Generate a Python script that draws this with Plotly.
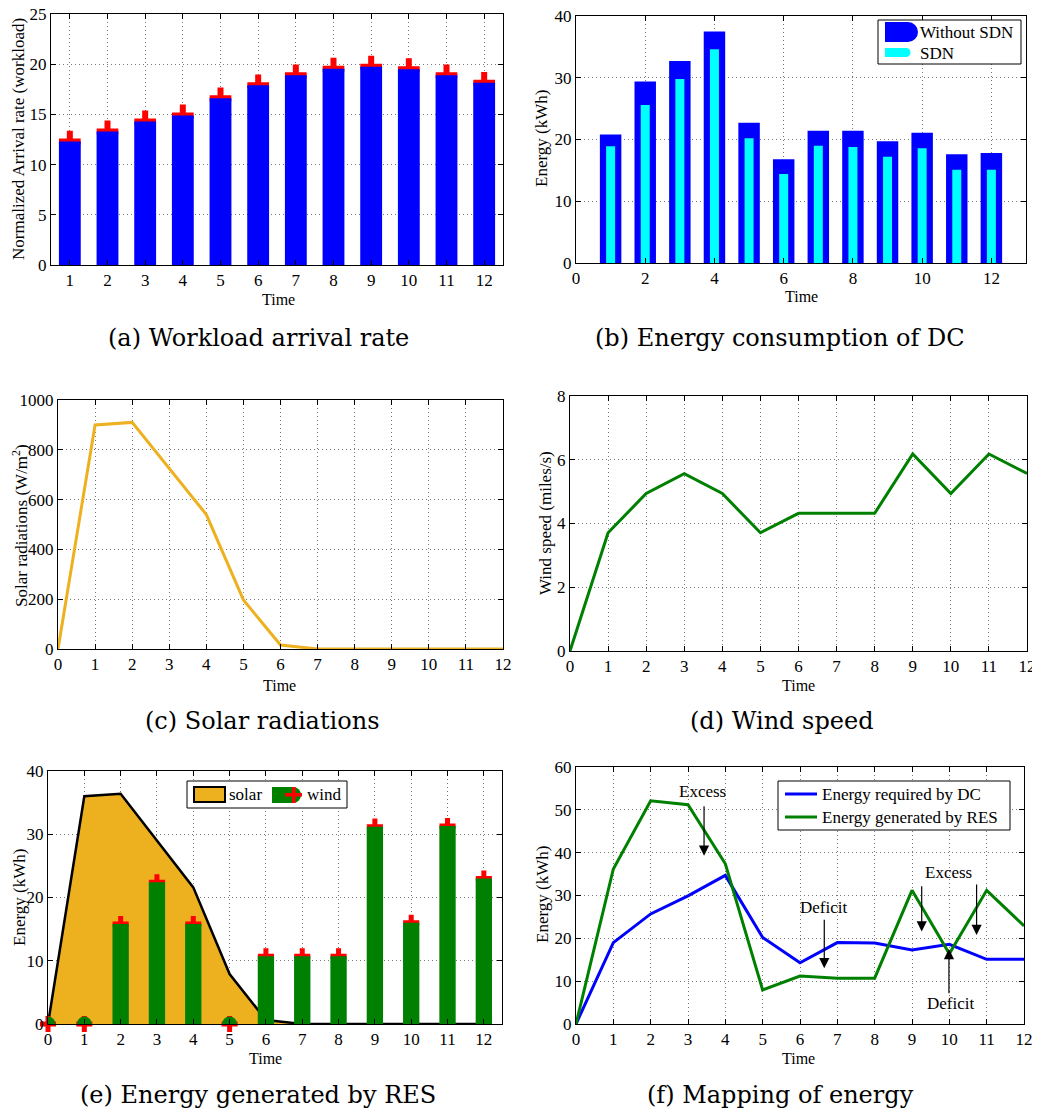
import plotly.graph_objects as go

# ---------------- data ----------------
time_bars = [1, 2, 3, 4, 5, 6, 7, 8, 9, 10, 11, 12]
time_line = [0, 1, 2, 3, 4, 5, 6, 7, 8, 9, 10, 11, 12]

workload = [12.3, 13.3, 14.3, 14.9, 16.6, 17.9, 18.9, 19.55, 19.75, 19.5, 18.9, 18.15]

energy_without_sdn = [20.8, 29.4, 32.7, 37.5, 22.7, 16.8, 21.4, 21.4, 19.7, 21.1, 17.6, 17.8]
energy_sdn = [18.9, 25.6, 29.8, 34.6, 20.2, 14.4, 19.0, 18.8, 17.2, 18.6, 15.1, 15.1]

solar_radiation = [0, 900, 910, 725, 540, 197, 16, 0, 0, 0, 0, 0, 0]
wind_speed = [0, 3.71, 4.94, 5.56, 4.94, 3.71, 4.32, 4.32, 4.32, 6.18, 4.94, 6.18, 5.57]

solar_energy = [0, 36.0, 36.4, 29.0, 21.6, 7.9, 0.64, 0, 0, 0, 0, 0, 0]
wind_energy = [0, 0, 15.8, 22.4, 15.8, 0, 10.7, 10.7, 10.7, 31.2, 16.0, 31.3, 23.0]

dc_required = [0, 19.0, 25.7, 29.9, 34.7, 20.2, 14.3, 19.0, 18.9, 17.3, 18.6, 15.1, 15.1]
res_generated = [0, 36.2, 52.1, 51.2, 37.4, 7.95, 11.2, 10.7, 10.7, 31.2, 16.4, 31.2, 22.9]

legend_b = ["Without SDN", "SDN"]
legend_e = ["solar", "wind"]
legend_f = ["Energy required by DC", "Energy generated by RES"]

# ---------------- styling ----------------
OFF = 8                     # page body margin in the browser
W, H = 1040 - OFF, 1115 - OFF
BLUE = "#0000FF"
CYAN = "#00FFFF"
GREEN = "#008000"
ORANGE = "#EDB120"
RED = "#FF0000"
SERIF = "Liberation Serif"
CAP_FONT = "DejaVu Serif"
GRID = "rgb(120,120,120)"


def dx(px):
    return (px - OFF) / W


def dy(px):
    return 1 - (px - OFF) / H


# panel boxes in screen pixels: (left, right, top, bottom)
boxes = {
    1: (51, 503, 14, 265),
    2: (576, 1026, 16, 263),
    3: (58, 503, 400, 649),
    4: (570, 1027, 396, 651),
    5: (48, 502, 771, 1024),
    6: (576, 1024, 767, 1024),
}
xranges = {1: [0.5, 12.5], 2: [0, 13], 3: [0, 12], 4: [0, 12], 5: [0, 12.5], 6: [0, 12]}
yranges = {1: [0, 25], 2: [0, 40], 3: [0, 1000], 4: [0, 8], 5: [0, 40], 6: [0, 60]}
xdticks = {1: 1, 2: 2, 3: 1, 4: 1, 5: 1, 6: 1}
xticks0 = {1: 1, 2: 0, 3: 0, 4: 0, 5: 0, 6: 0}
ydticks = {1: 5, 2: 10, 3: 200, 4: 2, 5: 10, 6: 10}

fig = go.Figure()

# (a) workload: red crosses under blue bars (bars on overlay axis)
fig.add_trace(go.Scatter(x=time_bars, y=workload, mode="markers", xaxis="x", yaxis="y",
                         marker=dict(symbol="cross-thin", size=15.5, line=dict(color=RED, width=6)),
                         showlegend=False, cliponaxis=False))
fig.add_trace(go.Bar(x=time_bars, y=workload, xaxis="x", yaxis="y7", width=0.58,
                     marker=dict(color=BLUE, line=dict(width=0)), showlegend=False))

# (b) energy consumption
fig.add_trace(go.Bar(x=time_bars, y=energy_without_sdn, xaxis="x2", yaxis="y2", width=0.62,
                     marker=dict(color=BLUE, line=dict(width=0)), name=legend_b[0], showlegend=False))
fig.add_trace(go.Bar(x=time_bars, y=energy_sdn, xaxis="x2", yaxis="y2", width=0.26,
                     marker=dict(color=CYAN, line=dict(width=0)), name=legend_b[1], showlegend=False))

# (c) solar radiations
fig.add_trace(go.Scatter(x=time_line, y=solar_radiation, mode="lines", xaxis="x3", yaxis="y3",
                         line=dict(color=ORANGE, width=3), showlegend=False))

# (d) wind speed
fig.add_trace(go.Scatter(x=time_line, y=wind_speed, mode="lines", xaxis="x4", yaxis="y4",
                         line=dict(color=GREEN, width=3), showlegend=False))

# (e) energy generated by RES
fig.add_trace(go.Scatter(x=time_line, y=solar_energy, mode="lines", xaxis="x5", yaxis="y5",
                         fill="tozeroy", fillcolor=ORANGE, line=dict(color="black", width=2.5),
                         name=legend_e[0], showlegend=False))
fig.add_trace(go.Scatter(x=time_line, y=wind_energy, mode="markers", xaxis="x5", yaxis="y5",
                         marker=dict(symbol="cross-thin", size=11.5, line=dict(color=RED, width=5)),
                         showlegend=False, cliponaxis=False))
fig.add_trace(go.Bar(x=time_line, y=wind_energy, xaxis="x5", yaxis="y8", width=0.45,
                     marker=dict(color=GREEN, line=dict(width=0)), name=legend_e[1], showlegend=False))
zero_x = [t for t, v in zip(time_line, wind_energy) if v == 0]
zero_y = [v for v in wind_energy if v == 0]
fig.add_trace(go.Scatter(x=zero_x, y=zero_y, mode="markers", xaxis="x5", yaxis="y8",
                         marker=dict(symbol="circle", size=15, color=GREEN, line=dict(width=0)),
                         showlegend=False, cliponaxis=True))

# (f) mapping of energy
fig.add_trace(go.Scatter(x=time_line, y=dc_required, mode="lines", xaxis="x6", yaxis="y6",
                         line=dict(color=BLUE, width=3), name=legend_f[0], showlegend=False))
fig.add_trace(go.Scatter(x=time_line, y=res_generated, mode="lines", xaxis="x6", yaxis="y6",
                         line=dict(color=GREEN, width=3), name=legend_f[1], showlegend=False))

layout = dict(
    width=W, height=H,
    autosize=False,
    margin=dict(l=0, r=0, t=0, b=0, pad=0, autoexpand=False),
    paper_bgcolor="white", plot_bgcolor="white",
    barmode="overlay",
    font=dict(family=SERIF, size=16, color="black"),
    showlegend=False,
)

for i, (l, r, t, b) in boxes.items():
    sfx = "" if i == 1 else str(i)
    common = dict(showline=True, linecolor="black", linewidth=1, mirror="ticks",
                  ticks="inside", ticklen=5, tickcolor="black", tickwidth=1,
                  showgrid=True, gridcolor=GRID, griddash="1px,3px", gridwidth=1,
                  zeroline=False, tickfont=dict(family=SERIF, size=17, color="black"),
                  ticklabeloverflow="allow", fixedrange=True, automargin=False)
    layout["xaxis" + sfx] = dict(domain=[dx(l), dx(r)], anchor="y" + sfx, range=xranges[i],
                                 tick0=xticks0[i], dtick=xdticks[i], **common)
    layout["yaxis" + sfx] = dict(domain=[dy(b), dy(t)], anchor="x" + sfx, range=yranges[i],
                                 tick0=0, dtick=ydticks[i], **common)

layout["yaxis7"] = dict(overlaying="y", anchor="x", range=yranges[1], visible=False, fixedrange=True)
layout["yaxis8"] = dict(overlaying="y5", anchor="x5", range=yranges[5], visible=False, fixedrange=True)

fig.update_layout(**layout)

# ---------------- hand-drawn legends (pixel placements) ----------------
shapes = []
annotations = []


def rect(x0, y0, x1, y1, fill, line_color=None, line_width=0):
    shapes.append(dict(type="rect", xref="paper", yref="paper", layer="above",
                       x0=dx(x0), x1=dx(x1), y0=dy(y1), y1=dy(y0), fillcolor=fill,
                       line=dict(color=line_color or fill, width=line_width)))


def disc(cx, cy, r, fill):
    shapes.append(dict(type="circle", xref="paper", yref="paper", layer="above",
                       x0=dx(cx - r), x1=dx(cx + r), y0=dy(cy + r), y1=dy(cy - r),
                       fillcolor=fill, line=dict(width=0)))


def hline(x0, x1, y, color, width):
    shapes.append(dict(type="line", xref="paper", yref="paper", layer="above",
                       x0=dx(x0), x1=dx(x1), y0=dy(y), y1=dy(y), line=dict(color=color, width=width)))


def label(text, x, y):
    annotations.append(dict(text=text, x=dx(x), y=dy(y), xref="paper", yref="paper",
                            showarrow=False, xanchor="left", yanchor="middle",
                            font=dict(family=SERIF, size=17, color="black")))


# legend (b)
rect(878, 20, 1021, 64, "white", "black", 1)
disc(908, 32, 10, BLUE)
rect(885, 22, 908, 42, BLUE)
disc(906, 52.5, 4.5, CYAN)
rect(885, 48, 906, 57, CYAN)
label(legend_b[0], 918, 32)
label(legend_b[1], 918, 53)

# legend (e)
rect(187, 781, 347, 808, "white", "black", 1)
rect(194, 787, 225, 802, ORANGE, "black", 2)
label(legend_e[0], 227, 794)
disc(293, 795, 8, GREEN)
rect(272, 787, 293, 803, GREEN)
rect(285, 793, 302, 796.5, RED)
rect(292, 787, 295.5, 803, RED)
label(legend_e[1], 305, 794)

# legend (f)
rect(778, 781, 1010, 830, "white", "black", 1)
hline(785, 817, 794, BLUE, 3)
hline(785, 817, 817, GREEN, 3)
label(legend_f[0], 820, 794)
label(legend_f[1], 820, 817)

# axis titles (pixel placements)
ytitles = [
    ("Normalized Arrival rate (workload)", 19, 139),
    ("Energy (kWh)", 542, 139),
    ("Solar radiations (W/m<sup>2</sup>)", 20, 526),
    ("Wind speed (miles/s)", 545, 523),
    ("Energy (kWh)", 19, 898),
    ("Energy (kWh)", 542, 895),
]
for text, px, py in ytitles:
    annotations.append(dict(text=text, x=dx(px), y=dy(py), xref="paper", yref="paper",
                            showarrow=False, textangle=-90, xanchor="center", yanchor="middle",
                            font=dict(family=SERIF, size=17, color="black")))
xtitles = [(278, 299), (801, 296), (279, 685), (798, 685), (265, 1058), (798, 1058)]
for px, py in xtitles:
    annotations.append(dict(text="Time", x=dx(px), y=dy(py), xref="paper", yref="paper",
                            showarrow=False, xanchor="center", yanchor="middle",
                            font=dict(family=SERIF, size=16, color="black")))
captions = [
    ("(a) Workload arrival rate", 258, 338),
    ("(b) Energy consumption of DC", 780, 338),
    ("(c) Solar radiations", 262, 721),
    ("(d) Wind speed", 782, 721),
    ("(e) Energy generated by RES", 258, 1095),
    ("(f) Mapping of energy", 780, 1095),
]
for text, px, py in captions:
    annotations.append(dict(text=text, x=dx(px), y=dy(py), xref="paper", yref="paper",
                            showarrow=False, xanchor="center", yanchor="middle",
                            font=dict(family=CAP_FONT, size=24, color="black")))

# (f) labels and arrows
labels_f = [("Excess", 3.38, 54.3), ("Deficit", 6.63, 27.3), ("Excess", 9.97, 35.4), ("Deficit", 10.02, 4.8)]
for text, x, y in labels_f:
    annotations.append(dict(text=text, x=x, y=y, xref="x6", yref="y6", showarrow=False,
                            font=dict(family=SERIF, size=17, color="black")))
arrows_f = [  # (head x, head y, tail x, tail y)
    (3.43, 39.3, 3.43, 51.2),
    (6.65, 13.0, 6.65, 24.7),
    (9.26, 21.6, 9.26, 32.5),
    (10.73, 20.8, 10.73, 32.9),
    (9.99, 17.5, 9.99, 6.8),
]
for hx, hy, tx, ty in arrows_f:
    annotations.append(dict(text="", x=hx, y=hy, ax=tx, ay=ty, xref="x6", yref="y6",
                            axref="x6", ayref="y6", showarrow=True, arrowhead=2, arrowsize=1.7,
                            arrowwidth=1.2, arrowcolor="black"))

fig.update_layout(shapes=shapes, annotations=annotations)

fig.write_html("out.html")
